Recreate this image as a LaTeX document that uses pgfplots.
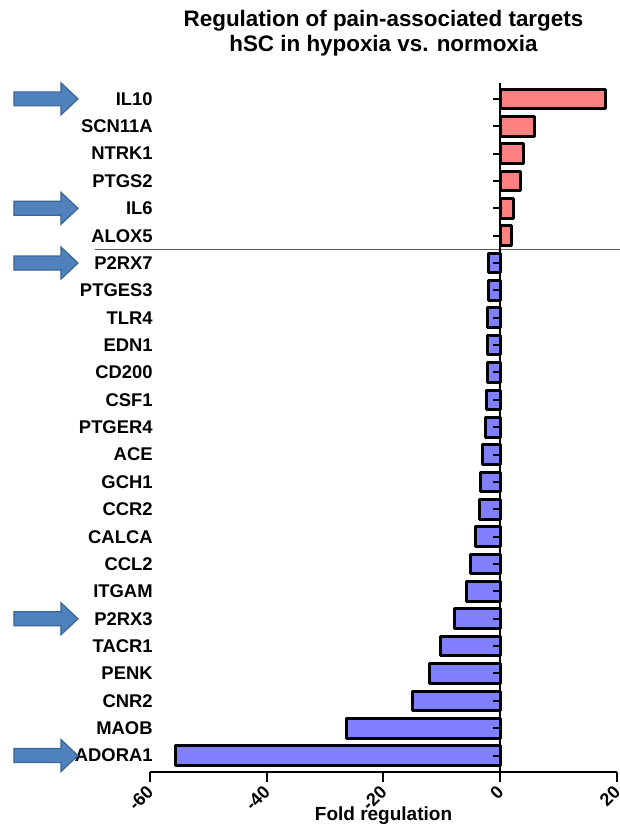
\documentclass[border=0pt]{standalone}
\usepackage{pgfplots}
\pgfplotsset{compat=1.18}
\usepackage{fontspec}
\setmainfont{Liberation Sans}
\definecolor{posred}{HTML}{FF8080}
\definecolor{negblue}{HTML}{8080FF}
\definecolor{arrowblue}{HTML}{4F81BD}
\definecolor{arrowedge}{HTML}{3A6596}
\newcommand\bigarrow[1]{%
  \filldraw[fill=arrowblue, draw=arrowedge, line width=0.6pt, line join=miter]
  ([xshift=-68pt,yshift=-3.5pt]#1) -- ([xshift=-44.5pt,yshift=-3.5pt]#1) --
  ([xshift=-44.5pt,yshift=-8pt]#1) -- ([xshift=-36pt]#1) --
  ([xshift=-44.5pt,yshift=8pt]#1) -- ([xshift=-44.5pt,yshift=3.5pt]#1) --
  ([xshift=-68pt,yshift=3.5pt]#1) -- cycle;}
\begin{document}
\begin{tikzpicture}
\begin{axis}[name=main,
  scale only axis, width=233.5pt, height=344.5pt,
  xmin=-60, xmax=20, ymin=-0.6, ymax=24.58,
  axis x line*=bottom, axis y line*=left,
  x axis line style={-, line width=1pt},
  y axis line style={draw=none},
  xtick={-60,-40,-20,0,20},
  x tick style={line width=1pt, black},
  tick align=outside,
  major tick length=5pt,
  ytick={0,...,24},
  y tick style={draw=none},
  yticklabels={ADORA1,MAOB,CNR2,PENK,TACR1,P2RX3,ITGAM,CCL2,CALCA,CCR2,GCH1,ACE,PTGER4,CSF1,CD200,EDN1,TLR4,PTGES3,P2RX7,ALOX5,IL6,PTGS2,NTRK1,SCN11A,IL10},
  yticklabel style={font=\bfseries\fontsize{9.2}{10}\selectfont, inner sep=0.5pt, xshift=7pt},
  xticklabel style={font=\bfseries\fontsize{9}{10}\selectfont, rotate=45, anchor=east, xshift=1pt, yshift=-2.5pt, /pgf/number format/assume math mode=true},
  xlabel={Fold regulation},
  xlabel style={font=\bfseries\fontsize{9.5}{11}\selectfont, at={(axis description cs:0.5,0)}, anchor=base, yshift=-24pt},
  clip=false,
]
\addplot[xbar, bar width=0.72, bar shift=0pt, fill=posred, draw=black, line width=1.5pt, line join=round]
  coordinates {(2.0,19) (2.3,20) (3.5,21) (3.9,22) (5.9,23) (18.0,24)};
\addplot[xbar, bar width=0.72, bar shift=0pt, fill=negblue, draw=black, line width=1.5pt, line join=round]
  coordinates {(-55.6,0) (-26.3,1) (-15.0,2) (-12.2,3) (-10.2,4) (-7.8,5) (-5.7,6) (-5.1,7) (-4.3,8) (-3.6,9) (-3.3,10) (-3.0,11) (-2.6,12) (-2.3,13) (-2.2,14) (-2.1,15) (-2.1,16) (-2.0,17) (-2.0,18)};
\draw[black!65, line width=0.6pt] (axis cs:-69.4,18.5) -- (axis cs:20.5,18.5);
\coordinate (r24) at (axis cs:-60,24);
\coordinate (r20) at (axis cs:-60,20);
\coordinate (r18) at (axis cs:-60,18);
\coordinate (r5) at (axis cs:-60,5);
\coordinate (r0) at (axis cs:-60,0);
\end{axis}
\begin{axis}[at={(main.south east)}, anchor=south east,
  scale only axis, width=58.375pt, height=344.5pt,
  xmin=0, xmax=20, ymin=-0.6, ymax=24.58,
  axis x line=none, axis y line*=left,
  y axis line style={-, line width=1pt},
  ytick={0,...,24}, yticklabels={},
  tick align=outside, major tick length=3.5pt,
  y tick style={line width=1pt, black},
]
\addplot[draw=none] coordinates {(1,0)};
\end{axis}
\bigarrow{r24}
\bigarrow{r20}
\bigarrow{r18}
\bigarrow{r5}
\bigarrow{r0}
\node[align=center, anchor=base, font=\bfseries\fontsize{11.2}{12.5}\selectfont] at ([yshift=15.5pt]main.north) {Regulation of pain-associated targets\\hSC in hypoxia vs. normoxia};
\pgfresetboundingbox
\path ([xshift=-75pt,yshift=386pt]main.south west) rectangle ([xshift=1.5pt,yshift=-26pt]main.south east);
\end{tikzpicture}
\end{document}
